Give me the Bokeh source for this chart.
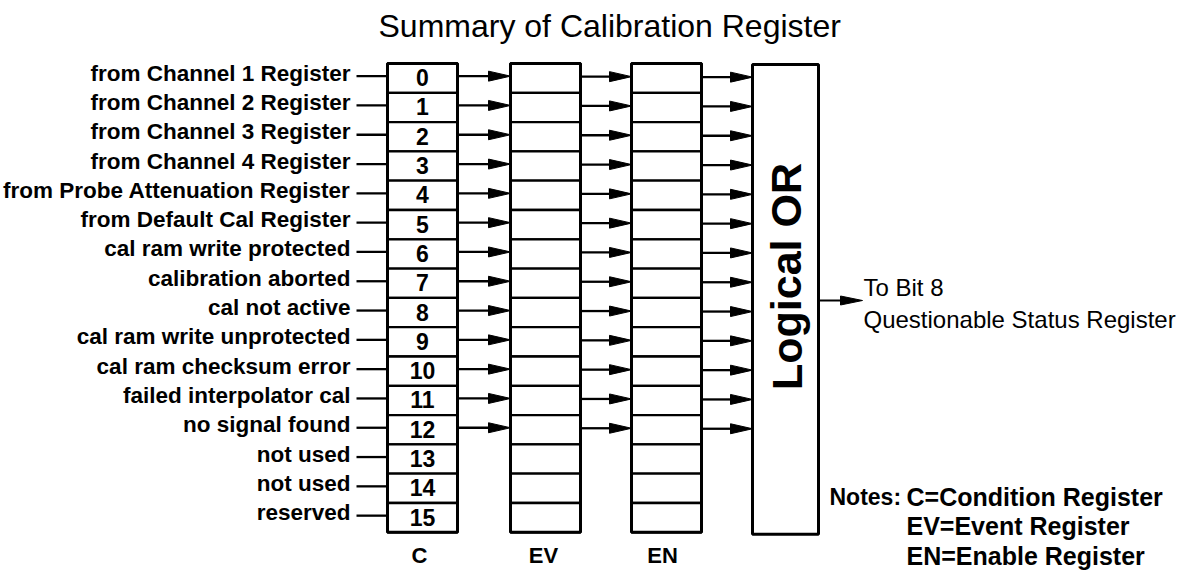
from bokeh.plotting import figure
from bokeh.models import Range1d
from bokeh.embed import file_html
from bokeh.resources import INLINE
from bokeh.core.properties import value
import math

# ---------------- data ----------------
title_text = "Summary of Calibration Register"
bit_numbers = [str(i) for i in range(16)]
bit_labels = [
    "from Channel 1 Register",
    "from Channel 2 Register",
    "from Channel 3 Register",
    "from Channel 4 Register",
    "from Probe Attenuation Register",
    "from Default Cal Register",
    "cal ram write protected",
    "calibration aborted",
    "cal not active",
    "cal ram write unprotected",
    "cal ram checksum error",
    "failed interpolator cal",
    "no signal found",
    "not used",
    "not used",
    "reserved",
]
bit_active = [True] * 13 + [False] * 3
column_names = ["C", "EV", "EN"]
or_label = "Logical OR"
output_lines = ["To Bit 8", "Questionable Status Register"]
notes_head = "Notes:"
notes_lines = ["C=Condition Register", "EV=Event Register", "EN=Enable Register"]

# ---------------- layout ----------------
W, H = 1181, 572
TOP = 63.0
ROW_H = 29.3
COL_X = [(387, 457), (510, 580), (631, 701)]
COL_LABEL_X = [419, 543, 662]
OR_X = (752, 818)
LABEL_RIGHT = 352
FONT = "Liberation Sans"

n = len(bit_numbers)
yc = [TOP + (i + 0.5) * ROW_H for i in range(n)]
bottom = TOP + n * ROW_H

p = figure(width=W, height=H, x_range=Range1d(0, W), y_range=Range1d(H, 0),
           output_backend="svg", toolbar_location=None, min_border=0,
           x_axis_location=None, y_axis_location=None)
p.grid.visible = False
p.outline_line_color = None
p.background_fill_color = "white"
p.border_fill_color = "white"

# title
p.text(x=[378], y=[25], text=[title_text], text_align="left", text_baseline="middle",
       text_font=value(FONT), text_font_size="32px", text_color="black")

# register columns
for (x0, x1) in COL_X:
    p.quad(left=[x0] * n, right=[x1] * n,
           top=[TOP + i * ROW_H for i in range(n)],
           bottom=[TOP + (i + 1) * ROW_H for i in range(n)],
           fill_color="white", line_color="black", line_width=2.3)
    p.quad(left=[x0], right=[x1], top=[TOP], bottom=[bottom],
           fill_color=None, line_color="black", line_width=3)

# bit numbers in C
p.text(x=[(COL_X[0][0] + COL_X[0][1]) / 2] * n, y=[v - 0.5 for v in yc], text=bit_numbers,
       text_align="center", text_baseline="middle", text_font=value(FONT),
       text_font_size="23px", text_font_style="bold", text_color="black")

# left labels and connectors
p.text(x=[LABEL_RIGHT - 2] * n, y=[v - 5 for v in yc], text=bit_labels,
       text_align="right", text_baseline="middle", text_font=value(FONT),
       text_font_size="22.5px", text_font_style="bold", text_color="black")
p.segment(x0=[LABEL_RIGHT + 4] * n, x1=[COL_X[0][0]] * n,
          y0=[v - 2 for v in yc], y1=[v - 2 for v in yc], line_color="black", line_width=2.3)

# arrows between columns
targets = [(COL_X[0][1], COL_X[1][0], -2.0), (COL_X[1][1], COL_X[2][0], -1.5),
           (COL_X[2][1], OR_X[0], -1.0)]
HEAD_L = 22
HEAD_W = 5
for (xs, xe, dy) in targets:
    ys = [v + dy for v, a in zip(yc, bit_active) if a]
    m = len(ys)
    p.segment(x0=[xs] * m, x1=[xe - HEAD_L + 2] * m, y0=ys, y1=ys,
              line_color="black", line_width=2.3)
    p.patches(xs=[[xe - HEAD_L, xe, xe - HEAD_L] for _ in ys],
              ys=[[y - HEAD_W, y, y + HEAD_W] for y in ys],
              fill_color="black", line_color="black", line_width=1)

# logical OR box
p.quad(left=[OR_X[0]], right=[OR_X[1]], top=[TOP + 1], bottom=[bottom + 2],
       fill_color="white", line_color="black", line_width=3)
p.text(x=[(OR_X[0] + OR_X[1]) / 2 + 1], y=[276], text=[or_label], angle=[math.pi / 2],
       text_align="center", text_baseline="middle", text_font=value(FONT),
       text_font_size="43px", text_font_style="bold", text_color="black")

# output arrow
OUT_Y = 300
p.segment(x0=[OR_X[1]], x1=[842], y0=[OUT_Y], y1=[OUT_Y], line_color="black", line_width=2)
p.patches(xs=[[840, 862, 840]], ys=[[OUT_Y - 4.5, OUT_Y, OUT_Y + 4.5]],
          fill_color="black", line_color="black", line_width=1)
p.text(x=[863, 863], y=[286.5, 319], text=output_lines, text_align="left",
       text_baseline="middle", text_font=value(FONT), text_font_size="24px",
       text_color="black")

# column names
p.text(x=COL_LABEL_X, y=[555] * 3, text=column_names, text_align="center",
       text_baseline="middle", text_font=value(FONT), text_font_size="22px",
       text_font_style="bold", text_color="black")

# notes
p.text(x=[829], y=[496], text=[notes_head], text_align="left", text_baseline="middle",
       text_font=value(FONT), text_font_size="23px", text_font_style="bold", text_color="black")
p.text(x=[906] * 3, y=[496, 525, 555], text=notes_lines, text_align="left",
       text_baseline="middle", text_font=value(FONT), text_font_size="25px",
       text_font_style="bold", text_color="black")

open("out.html", "w").write(file_html(p, INLINE))
